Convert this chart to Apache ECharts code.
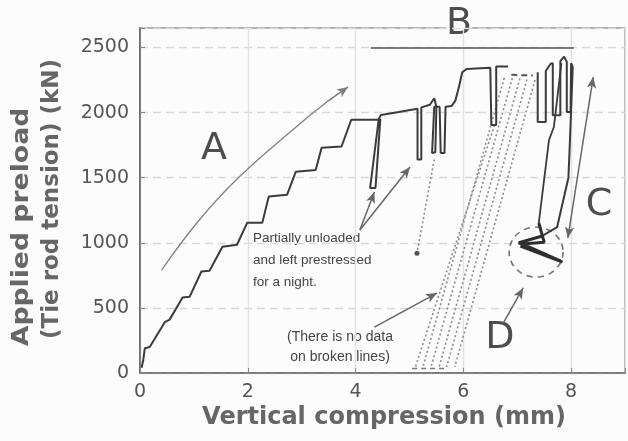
<!DOCTYPE html>
<html>
<head>
<meta charset="utf-8">
<script src="https://cdn.jsdelivr.net/npm/echarts@6/dist/echarts.min.js"></script>
<style>
  html, body { margin: 0; padding: 0; background: #fcfcfc; }
  #chart { width: 628px; height: 441px; }
</style>
</head>
<body>
<div id="chart"></div>
<script>
// Preload applied through the tie rod versus vertical compression of the column base.

const xTicks = [0, 2, 4, 6, 8];
const yTicks = [0, 500, 1000, 1500, 2000, 2500];

// First run: staged loading to ~1950 kN, then partial unloads (left prestressed overnight)
const loadingRun1 = [
  [0.03, 40], [0.06, 100], [0.09, 190], [0.18, 200], [0.46, 390], [0.55, 410],
  [0.79, 580], [0.92, 585], [1.14, 780], [1.29, 785], [1.53, 970], [1.80, 985],
  [1.99, 1155], [2.27, 1155], [2.39, 1355], [2.73, 1370], [2.89, 1545], [3.26, 1560],
  [3.37, 1730], [3.74, 1740], [3.92, 1945], [4.42, 1945],
  [4.46, 1950], [4.37, 1421], [4.27, 1421], [4.43, 1950],
  [4.47, 1982], [4.80, 2005], [5.15, 2030],
  [5.15, 1640], [5.22, 1640], [5.22, 2040],
  [5.38, 2060], [5.46, 2110], [5.50, 2045],
  [5.48, 1695], [5.42, 1690], [5.46, 2045], [5.56, 2045],
  [5.58, 1690], [5.65, 1690], [5.67, 2045],
  [5.78, 2050], [5.85, 2090], [5.92, 2200], [5.98, 2310], [6.06, 2335],
  [6.50, 2345], [6.52, 2352], [6.52, 1905], [6.61, 1905], [6.61, 2355], [6.83, 2355]
];

// Second run: cycles near 2300-2430 kN, then unloading down to about 1000 kN and back
const loadingRun2 = [
  [7.38, 2310], [7.38, 1928], [7.53, 1928], [7.53, 2320], [7.62, 2375],
  [7.66, 2380], [7.66, 1980], [7.80, 1980], [7.80, 2395], [7.87, 2430],
  [7.92, 2390], [7.92, 2005], [7.99, 2005], [8.00, 2380], [8.03, 2350],
  [7.98, 1800], [7.95, 1500], [7.74, 1120], [7.45, 1050]
];
const reloadRun2 = [[7.40, 1152], [7.59, 1790], [7.68, 1890], [7.82, 2380]];

// Dense unload/reload cycles around 1000 kN (D)
const cycleCluster = [
  [7.45, 1050], [7.03, 1000], [7.84, 852], [7.06, 975], [7.80, 862],
  [7.10, 990], [7.50, 1005], [7.40, 1152]
];

// Paths with no recorded data (broken lines)
const gapTop = [[6.89, 2290], [7.29, 2285]];
const gapBottom = [[5.05, 35], [5.72, 35]];
const overnightDrop = [[5.46, 1640], [5.14, 920]];
const noDataLines = [
  [[6.58, 1905], [5.11, 46]],
  [[6.76, 2266], [5.25, 46]],
  [[6.91, 2266], [5.40, 46]],
  [[7.05, 2262], [5.55, 46]],
  [[7.18, 2255], [5.69, 46]],
  [[7.33, 2250], [5.84, 46]]
];

// Curved trend arrow A (body points, last two give the head direction)
const arrowA = [[0.40, 791], [1.10, 1175], [1.84, 1505], [2.94, 1905], [3.49, 2089], [3.86, 2197]];
// Straight annotation arrows [from, to]
const arrowsUnload = [
  [[4.08, 1098], [4.35, 1390]],
  [[4.08, 1098], [5.01, 1582]]
];
const arrowNoData = [[4.35, 353], [5.51, 614]];
const arrowD = [[6.74, 384], [7.11, 653]];
const arrowC = [[7.94, 1037], [8.41, 2273]];
const rangeB = [[4.28, 2496], [8.05, 2496]];
const circleD = [[7.35, 929]];

const ink = '#3b3b3b';
const dotted = { color: '#8c8c8c', width: 1.6, type: [2, 2.5] };
const arrowGrey = { color: '#808080', width: 1.3 };

function lineSeries(data, style, extra) {
  return Object.assign({
    type: 'line', data: data, symbol: 'none', silent: true,
    lineStyle: style, animation: false
  }, extra || {});
}

function arrowItem(pair, opts) {
  opts = opts || {};
  return [
    { coord: pair[0], symbol: opts.both ? 'arrow' : 'none', lineStyle: opts.lineStyle },
    { coord: pair[1], symbol: 'arrow', lineStyle: opts.lineStyle }
  ];
}

const series = [
  lineSeries(loadingRun1, { color: ink, width: 2 }, { z: 5 }),
  lineSeries(loadingRun2, { color: ink, width: 2 }, { z: 5 }),
  lineSeries(reloadRun2, { color: ink, width: 1.8 }, { z: 5 }),
  lineSeries(cycleCluster, { color: '#2e2e2e', width: 3 }, { z: 6 }),
  lineSeries(gapTop, { color: '#555', width: 2, type: [6, 4] }),
  lineSeries(gapBottom, { color: '#777', width: 1.5, type: [5, 4] }),
  lineSeries(arrowA, arrowGrey, { smooth: 0.4 }),
  {
    type: 'line', silent: true, animation: false, lineStyle: dotted,
    data: overnightDrop.map((p, i) => ({
      value: p, symbol: i === overnightDrop.length - 1 ? 'circle' : 'none', symbolSize: 5,
      itemStyle: { color: '#555' }
    })),
    showSymbol: true
  }
].concat(noDataLines.map(l => lineSeries(l, dotted)));

// Arrow heads and straight arrows, plus the B range bracket
series.push({
  type: 'line', data: [], silent: true, animation: false,
  markLine: {
    silent: true, animation: false,
    symbolSize: [7, 11],
    label: { show: false },
    lineStyle: { color: '#666', width: 1.5, type: 'solid' },
    emphasis: { disabled: true },
    data: [
      arrowItem(arrowA.slice(-2), { lineStyle: arrowGrey }),
      arrowItem(arrowsUnload[0]),
      arrowItem(arrowsUnload[1]),
      arrowItem(arrowNoData),
      arrowItem(arrowD),
      arrowItem(arrowC, { both: true }),
      [
        { coord: rangeB[0], symbol: 'none', lineStyle: { color: '#555', width: 1.6 } },
        { coord: rangeB[1], symbol: 'none', lineStyle: { color: '#555', width: 1.6 } }
      ]
    ]
  }
});

// Dashed circle marking region D
series.push({
  type: 'scatter', data: circleD, silent: true, animation: false,
  symbol: 'circle', symbolSize: [54, 50],
  itemStyle: { color: 'rgba(0,0,0,0)', borderColor: '#555', borderWidth: 1.6, borderType: [6, 5] }
});

const labelFont = 'DejaVu Sans';
const letter = (t, x, y, bg) => ({
  type: 'text', x: x, y: y, silent: true,
  style: Object.assign({
    text: t, font: '38px "DejaVu Sans"', fill: '#4d4d4d',
    textAlign: 'center', textVerticalAlign: 'middle'
  }, bg ? { backgroundColor: bg } : {})
});

const chart = echarts.init(document.getElementById('chart'), null, { renderer: 'canvas' });
chart.setOption({
  backgroundColor: '#fcfcfc',
  animation: false,
  grid: {
    left: 140, right: -2, top: 28, bottom: 68,
    show: true, borderColor: '#9a9a9a', borderWidth: 1.5, backgroundColor: 'transparent'
  },
  xAxis: {
    type: 'value', min: 0, max: 9, interval: 2,
    axisLine: { show: true, lineStyle: { color: '#6a6a6a', width: 1.5 } },
    axisTick: { show: true, inside: true, length: 5, lineStyle: { color: '#888' } },
    axisLabel: {
      margin: 10, color: '#555', fontFamily: labelFont, fontSize: 19,
      formatter: v => (xTicks.indexOf(v) >= 0 ? String(v) : '')
    },
    splitLine: { show: true, lineStyle: { color: '#e2e2e2', width: 1.4 } }
  },
  yAxis: {
    type: 'value', min: 0, max: 2650, interval: 500,
    axisLine: { show: true, lineStyle: { color: '#5a5a5a', width: 1.5 } },
    axisTick: { show: true, inside: true, length: 5, lineStyle: { color: '#888' } },
    axisLabel: {
      margin: 11, color: '#555', fontFamily: labelFont, fontSize: 19,
      formatter: v => (yTicks.indexOf(v) >= 0 ? String(v) : '')
    },
    splitLine: { show: true, lineStyle: { color: '#d9d9d9', width: 1.4, type: [8, 5] } }
  },
  series: series,
  graphic: [
    {
      type: 'text', x: 22, y: 227, rotation: Math.PI / 2, scaleX: 1.16, silent: true,
      style: { text: 'Applied preload', font: 'bold 23px "DejaVu Sans"', fill: '#666', textAlign: 'center', textVerticalAlign: 'middle' }
    },
    {
      type: 'text', x: 52, y: 199, rotation: Math.PI / 2, silent: true,
      style: { text: '(Tie rod tension) (kN)', font: 'bold 23px "DejaVu Sans"', fill: '#666', textAlign: 'center', textVerticalAlign: 'middle' }
    },
    {
      type: 'text', x: 384, y: 418, silent: true,
      style: { text: 'Vertical compression (mm)', font: 'bold 24px "DejaVu Sans"', fill: '#666', textAlign: 'center', textVerticalAlign: 'middle' }
    },
    letter('A', 214, 149),
    letter('B', 459, 24, '#fcfcfc'),
    letter('C', 599, 205),
    letter('D', 500, 338),
    {
      type: 'text', x: 253, y: 260, silent: true,
      style: {
        text: 'Partially unloaded\nand left prestressed\nfor a night.',
        font: '13.5px "Liberation Sans"', lineHeight: 22, fill: '#444',
        textAlign: 'left', textVerticalAlign: 'middle'
      }
    },
    {
      type: 'text', x: 340, y: 347, silent: true,
      style: {
        text: '(There is no data\non broken lines)',
        font: '14px "Liberation Sans"', lineHeight: 20, fill: '#444',
        textAlign: 'center', textVerticalAlign: 'middle'
      }
    }
  ]
});
</script>
</body>
</html>
